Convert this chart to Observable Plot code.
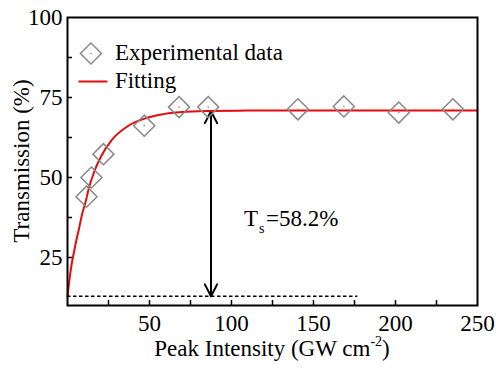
<!DOCTYPE html>
<html><head><meta charset="utf-8">
<script src="https://cdn.jsdelivr.net/npm/d3@7"></script>
<script src="https://cdn.jsdelivr.net/npm/@observablehq/plot@0.6"></script>
<style>html,body{margin:0;padding:0;background:#fff} svg{display:block}</style>
</head><body><div id="chart"></div>
<script>
const expIntensity = [11.6, 14.6, 21.9, 46.8, 68, 85.8, 140.5, 168.5, 202, 235];
const expTransmission = [44, 50, 57.3, 66.2, 72, 72, 71.3, 72.2, 70.3, 71.3];
// Fitting curve
const fitIntensity = [0, 1, 2.4, 4, 5.5, 7, 8.9, 11.6, 12.6, 16.6, 20.7, 26.8, 36.9, 47, 57.2, 68.3, 85, 110, 150, 200, 250];
const fitTransmission = [12.8, 17.3, 22.5, 26.8, 30.6, 34, 38.5, 43.5, 45.8, 52.2, 56.8, 61.6, 66.1, 68.4, 69.7, 70.4, 70.8, 70.9, 70.9, 70.9, 70.9];
// Axis ticks
const xTickLabels = [50, 100, 150, 200, 250];
const xTickMarks = [25, 50, 75, 100, 125, 150, 175, 200, 225];
const yTickLabels = [25, 50, 75, 100];
const yTickMarks = [25, 37.5, 50, 62.5, 75, 87.5];
// Annotation values
const tsIntensity = 87.5;
const tsTop = 70.7;
const tsBottom = 12.9;
const baselineEnd = 177;
const tsLabel = "=58.2%";

const exp = expIntensity.map((x, i) => ({x, y: expTransmission[i]}));
const fit = fitIntensity.map((x, i) => ({x, y: fitTransmission[i]}));

const red = "#e60a0a";
const gray = "#888888";
const font = "Liberation Serif, Times New Roman, serif";

const plot = Plot.plot({
  width: 496, height: 368,
  marginLeft: 67, marginRight: 19, marginTop: 17, marginBottom: 63,
  x: {domain: [0, 250]},
  y: {domain: [10, 100]},
  style: {fontFamily: font, fontSize: "23px", color: "black", background: "white"},
  marks: [
    Plot.axisX(xTickLabels, {tickSize: 0, tickPadding: 9, label: null, fontSize: 23}),
    Plot.axisY(yTickLabels, {tickSize: 0, tickPadding: 5, label: null, fontSize: 23}),
    Plot.ruleX(xTickMarks, {x: d => d, insetTop: 283, stroke: "black", strokeWidth: 1.5}),
    Plot.ruleY(yTickMarks, {y: d => d, insetRight: 405, stroke: "black", strokeWidth: 1.5}),
    // dashed baseline
    Plot.ruleY([tsBottom], {y: d => d, x1: 0, x2: baselineEnd, stroke: "black", strokeWidth: 1.5, strokeDasharray: "3.5,2.5"}),
    // double arrow
    Plot.arrow([0], {x1: tsIntensity, x2: tsIntensity, y1: tsBottom, y2: tsTop, stroke: "black", strokeWidth: 2, headLength: 10, headAngle: 55}),
    Plot.arrow([0], {x1: tsIntensity, x2: tsIntensity, y1: tsTop, y2: tsBottom, stroke: "black", strokeWidth: 2, headLength: 10, headAngle: 55}),
    // fit
    Plot.line(fit, {x: "x", y: "y", stroke: red, strokeWidth: 2, curve: "monotone-x"}),
    // experimental points
    Plot.dot(exp, {x: "x", y: "y", symbol: "diamond2", r: 9.5, stroke: gray, strokeWidth: 1.5, fill: "none"}),
    Plot.dot(exp, {x: "x", y: "y", r: 0.8, fill: gray, stroke: "none"}),
    // legend
    Plot.dot([0], {x: 14.3, y: 88.75, symbol: "diamond2", r: 9.5, stroke: gray, strokeWidth: 1.5, fill: "none"}),
    Plot.dot([0], {x: 14.3, y: 88.75, r: 0.8, fill: gray, stroke: "none"}),
    Plot.text(["Experimental data"], {x: 28.9, y: 88.9, text: d => d, textAnchor: "start", fontSize: 23, fill: "black"}),
    Plot.ruleY([80], {y: d => d, x1: 7, x2: 24.6, stroke: red, strokeWidth: 2}),
    Plot.text(["Fitting"], {x: 28.9, y: 80.2, text: d => d, textAnchor: "start", fontSize: 23, fill: "black"}),
    // Ts annotation
    Plot.text(["T"], {x: 107.6, y: 37.2, text: d => d, textAnchor: "start", fontSize: 23, fill: "black"}),
    Plot.text(["s"], {x: 107.6, y: 37.2, text: d => d, textAnchor: "start", dx: 15, dy: 10, fontSize: 14, fill: "black"}),
    Plot.text([tsLabel], {x: 107.6, y: 37.2, text: d => d, textAnchor: "start", dx: 22, fontSize: 23, fill: "black"}),
    Plot.frame({stroke: "black", strokeWidth: 2})
  ]
});

const svg = d3.select(plot);
// x axis label with superscript
const xl = svg.append("text")
  .attr("x", 272).attr("y", 356)
  .attr("text-anchor", "middle")
  .attr("font-family", font).attr("font-size", 23).attr("fill", "black");
xl.append("tspan").text("Peak Intensity (GW cm");
xl.append("tspan").attr("font-size", 14).attr("dy", -10).text("-2");
xl.append("tspan").attr("dy", 10).text(")");
// y axis label
svg.append("text")
  .attr("transform", "translate(29,161) rotate(-90)")
  .attr("text-anchor", "middle")
  .attr("font-family", font).attr("font-size", 23).attr("fill", "black")
  .text("Transmission (%)");

document.getElementById("chart").appendChild(plot);
</script>
</body></html>
